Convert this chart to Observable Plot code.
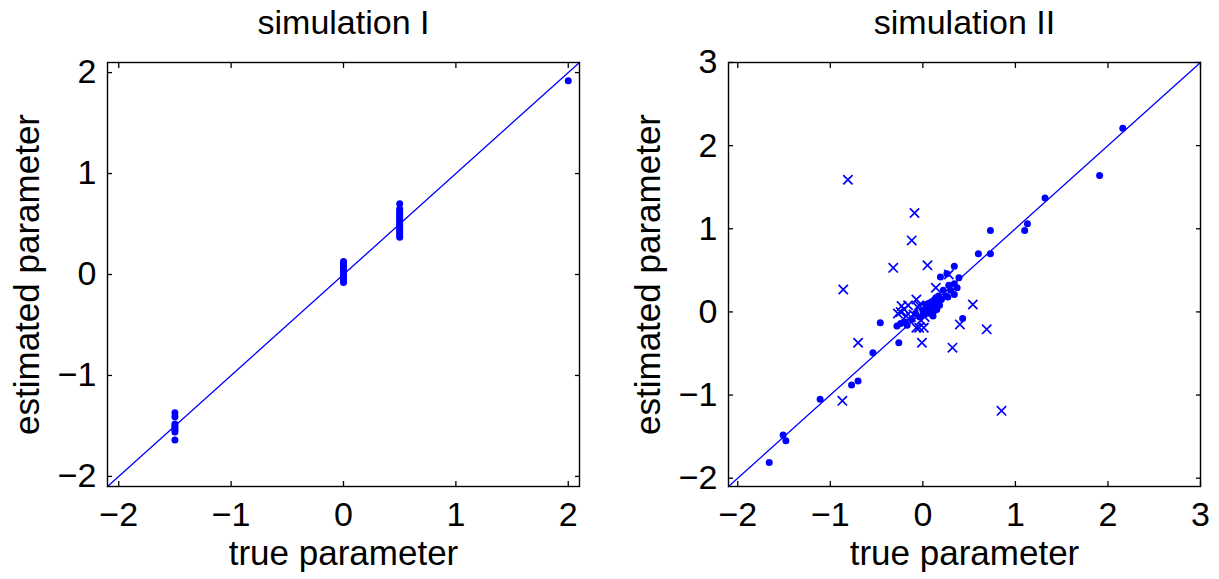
<!DOCTYPE html>
<html>
<head>
<meta charset="utf-8">
<script src="https://cdn.jsdelivr.net/npm/d3@7"></script>
<script src="https://cdn.jsdelivr.net/npm/@observablehq/plot@0.6"></script>
<style>
  html, body { margin: 0; padding: 0; background: #fff; }
  #wrap { position: relative; width: 1219px; height: 579px; font-family: "Liberation Sans", Arial, sans-serif; }
  .panel { position: absolute; top: 0; }
  svg { font-family: "Liberation Sans", Arial, sans-serif; }
</style>
</head>
<body>
<div id="wrap">
  <div class="panel" id="p1" style="left:0px"></div>
  <div class="panel" id="p2" style="left:620px"></div>
</div>
<script>
// ---------- Text ----------
const panelTitles = ["simulation I", "simulation II"];
const xLabel = "true parameter";
const yLabel = "estimated parameter";

// ---------- Simulation I data ----------
const sim1TrueValues = [-1.5, 0, 0.5, 2];
const sim1EstAtM15 = [-1.37, -1.41, -1.48, -1.50, -1.52, -1.54, -1.56, -1.64];
const sim1EstAt0 = [0.13, 0.11, 0.09, 0.07, 0.05, 0.03, 0.01, 0.0, -0.02, -0.04, -0.06, -0.08];
const sim1EstAt05 = [0.70, 0.65, 0.63, 0.61, 0.59, 0.57, 0.55, 0.53, 0.51, 0.49, 0.47, 0.45, 0.43, 0.41, 0.39, 0.37];
const sim1EstAt2 = [1.92];

const sim1Ticks = [-2, -1, 0, 1, 2];
const sim1Domain = [-2.1, 2.1];

// ---------- Simulation II data ----------
const sim2DotTrue = [-1.66, -1.51, -1.48, -1.11, -0.77, -0.70, -0.54, -0.46, -0.26, -0.28, -0.24, -0.19, -0.17, -0.12, -0.08, -0.03, 0.00, 0.02, 0.03, 0.04, 0.05, 0.06, 0.08, 0.08, 0.09, 0.10, 0.11, 0.12, 0.12, 0.13, 0.14, 0.15, 0.16, 0.17, 0.18, 0.19, 0.20, 0.22, 0.25, 0.26, 0.27, 0.28, 0.30, 0.34, 0.34, 0.37, 0.34, 0.39, 0.43, 0.60, 0.73, 0.73, 1.10, 1.13, 1.32, 1.91, 2.16];
const sim2DotEst  = [-1.81, -1.48, -1.55, -1.05, -0.88, -0.83, -0.49, -0.13, -0.37, -0.17, -0.14, -0.12, -0.16, -0.09, -0.02, -0.06, 0.02, -0.03, 0.09, 0.06, 0.00, 0.10, 0.04, -0.02, 0.12, 0.07, -0.05, 0.14, 0.01, 0.09, 0.17, 0.03, 0.12, 0.19, 0.08, 0.42, 0.15, 0.26, 0.19, 0.46, 0.18, 0.32, 0.26, 0.34, 0.21, 0.29, 0.55, 0.41, -0.08, 0.70, 0.70, 0.98, 0.98, 1.06, 1.37, 1.64, 2.21];

const sim2CrossTrue = [-0.81, -0.09, -0.12, -0.32, 0.05, -0.86, 0.54, 0.40, 0.69, -0.01, 0.32, -0.70, -0.87, 0.85, -0.07, 0.01, -0.04, 0.14, 0.28, -0.07, -0.23, -0.16, -0.27, -0.24, -0.20, -0.18, -0.13, -0.10, -0.05, -0.04, 0.02, -0.02];
const sim2CrossEst  = [1.59, 1.19, 0.86, 0.53, 0.56, 0.27, 0.09, -0.15, -0.21, -0.37, -0.43, -0.37, -1.07, -1.19, -0.19, -0.19, -0.19, 0.29, 0.45, 0.15, 0.07, 0.08, -0.02, 0.00, 0.03, -0.05, -0.06, -0.03, 0.05, 0.08, -0.06, -0.10];

const sim2Ticks = [-2, -1, 0, 1, 2, 3];
const sim2Domain = [-2.1, 3];

// ---------- build tables ----------
const sim1Groups = [sim1EstAtM15, sim1EstAt0, sim1EstAt05, sim1EstAt2];
const sim1Points = sim1Groups.flatMap((g, i) => g.map(v => ({x: sim1TrueValues[i], y: v})));
const sim2Dots = sim2DotTrue.map((x, i) => ({x, y: sim2DotEst[i]}));
const sim2Crosses = sim2CrossTrue.map((x, i) => ({x, y: sim2CrossEst[i]}));

const blue = "#0000ff";
const fmt = d => d < 0 ? "\u2212" + Math.abs(d) : String(d);
const FS_TICK = 34;
const FS_LABEL = 35;

function panel({title, domain, ticks, dots, crosses, width, marginLeft, marginRight}) {
  const marks = [
    Plot.line(domain, {x: d => d, y: d => d, stroke: blue, strokeWidth: 1.3}),
    Plot.dot(dots, {x: "x", y: "y", r: 3.5, fill: blue, stroke: "none"}),
  ];
  if (crosses) marks.push(Plot.dot(crosses, {x: "x", y: "y", symbol: "times", r: 4.3, stroke: blue, strokeWidth: 1.7}));
  marks.push(
    Plot.frame({stroke: "black", strokeWidth: 1.4}),
    // tick labels
    Plot.axisX(ticks, {anchor: "bottom", tickSize: 0, tickPadding: 15, fontSize: FS_TICK, tickFormat: fmt, label: null, fill: "black"}),
    Plot.axisY(ticks, {anchor: "left", tickSize: 0, tickPadding: 11, fontSize: FS_TICK, tickFormat: fmt, label: null, fill: "black"}),
    // inward ticks on all four sides
    Plot.axisX(ticks, {anchor: "bottom", tickSize: -5, tickFormat: () => "", label: null, strokeWidth: 1.3}),
    Plot.axisX(ticks, {anchor: "top", tickSize: -5, tickFormat: () => "", label: null, strokeWidth: 1.3}),
    Plot.axisY(ticks, {anchor: "left", tickSize: -5, tickFormat: () => "", label: null, strokeWidth: 1.3}),
    Plot.axisY(ticks, {anchor: "right", tickSize: -5, tickFormat: () => "", label: null, strokeWidth: 1.3}),
    Plot.text([xLabel], {frameAnchor: "bottom", dy: 67, fontSize: FS_LABEL, fill: "black", textAnchor: "middle", lineAnchor: "middle"}),
    Plot.text([yLabel], {frameAnchor: "left", dx: -80, rotate: -90, fontSize: FS_LABEL, fill: "black", textAnchor: "middle", lineAnchor: "middle"}),
    Plot.text([title], {frameAnchor: "top", dy: -39, fontSize: 34, fill: "black", textAnchor: "middle", lineAnchor: "middle"})
  );
  return Plot.plot({
    width, height: 579,
    marginLeft, marginRight, marginTop: 62, marginBottom: 93,
    x: {domain, ticks},
    y: {domain, ticks},
    style: {fontFamily: "Liberation Sans, Arial, sans-serif", background: "white", overflow: "visible"},
    marks
  });
}

document.getElementById("p1").appendChild(panel({
  title: panelTitles[0], domain: sim1Domain, ticks: sim1Ticks,
  dots: sim1Points, crosses: null, width: 609, marginLeft: 107, marginRight: 30
}));
document.getElementById("p2").appendChild(panel({
  title: panelTitles[1], domain: sim2Domain, ticks: sim2Ticks,
  dots: sim2Dots, crosses: sim2Crosses, width: 599, marginLeft: 108, marginRight: 19
}));
</script>
</body>
</html>
